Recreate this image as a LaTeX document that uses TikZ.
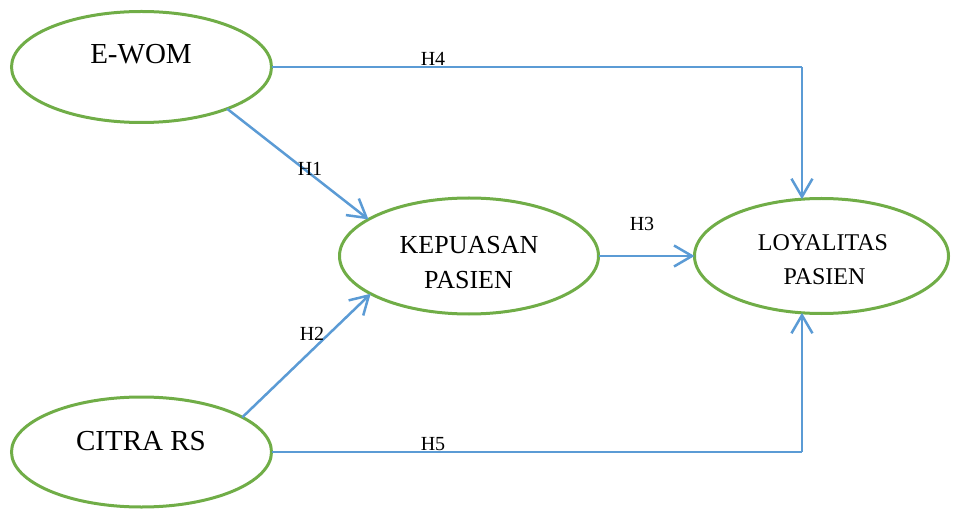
\documentclass[tikz,border=0pt]{standalone}
\usepackage{fontspec}
\setmainfont{Liberation Serif}
\usetikzlibrary{shapes.geometric,arrows.meta}
\definecolor{boxgreen}{RGB}{112,173,71}
\definecolor{linkblue}{RGB}{91,155,213}
\tikzset{
  oval/.style={ellipse,draw=boxgreen,line width=3pt,inner sep=0pt,outer sep=0pt},
  bigtxt/.style={anchor=base,inner sep=0pt,font=\fontsize{29}{34}\selectfont},
  midtxt/.style={anchor=base,inner sep=0pt,font=\fontsize{26}{30}\selectfont},
  smtxt/.style={anchor=base,inner sep=0pt,font=\fontsize{24}{28}\selectfont},
  hlab/.style={anchor=base,inner sep=0pt,font=\fontsize{20}{24}\selectfont},
  link/.style={draw=linkblue,line width=2.5pt,-{Straight Barb[length=18pt,width=21pt,line width=2.5pt]}},
  thinlink/.style={draw=linkblue,line width=1.5pt}
}
\begin{document}
\begin{tikzpicture}[x=1pt,y=-1pt]
\useasboundingbox (0,0) rectangle (957,510);
% ellipses
\node[oval,minimum width=260pt,minimum height=111pt] (ewom) at (141.5,67) {};
\node[oval,minimum width=259pt,minimum height=116pt] (kep) at (469,256) {};
\node[oval,minimum width=254pt,minimum height=115pt] (loy) at (821.5,256) {};
\node[oval,minimum width=260pt,minimum height=110pt] (citra) at (141.5,452) {};
% texts
\node[bigtxt] (ewomt) at (141,64) {E-WOM};
\node[bigtxt] (citrat) at (141,450.6) {CITRA RS};
\node[midtxt] (kept1) at (469,254) {KEPUASAN};
\node[midtxt] (kept2) at (468.5,288) {PASIEN};
\node[smtxt] (loyt1) at (823,250.7) {LOYALITAS};
\node[smtxt] (loyt2) at (824.5,284.3) {PASIEN};
% connectors
\draw[link] (ewom.-26.3) -- (kep.160.6);
\draw[link] (citra.19.6) -- (kep.-159.3);
\draw[link] (kep.east) -- (loy.west);
\coordinate (c4) at (ewom.east -| loy.109.9);
\draw[thinlink] (ewom.east) -- (c4);
\draw[link] (c4) -- (loy.109.9);
\coordinate (c5) at (citra.east -| loy.-109.9);
\draw[thinlink] (citra.east) -- (c5);
\draw[link] (c5) -- (loy.-109.9);
% labels
\node[hlab] (h4) at (433,65.6) {H4};
\node[hlab] (h1) at (310,175.6) {H1};
\node[hlab] (h3) at (642,230.6) {H3};
\node[hlab] (h2) at (312,340.6) {H2};
\node[hlab] (h5) at (433,450.6) {H5};
\end{tikzpicture}
\end{document}
